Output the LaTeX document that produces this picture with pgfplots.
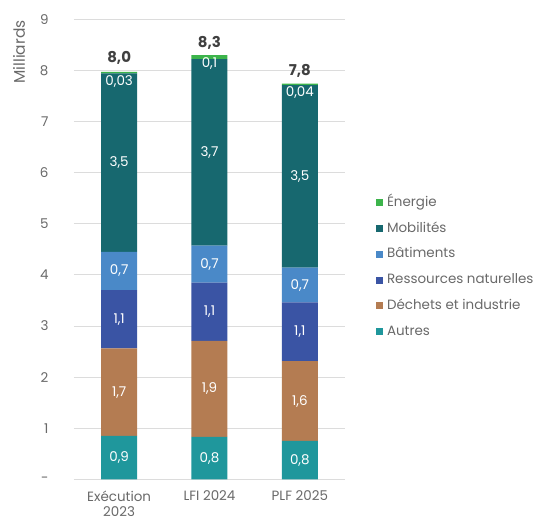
\documentclass[border=0pt]{standalone}
\usepackage{fontspec}
\setmainfont{Poppins}
\usepackage{pgfplots}
\usepackage{pgfplotstable}
\pgfplotsset{compat=1.18}
\definecolor{cEner}{RGB}{60,180,75}
\definecolor{cMob}{RGB}{23,104,111}
\definecolor{cBat}{RGB}{74,137,200}
\definecolor{cRes}{RGB}{58,84,164}
\definecolor{cDec}{RGB}{180,124,82}
\definecolor{cAut}{RGB}{31,151,156}
\definecolor{txt}{RGB}{105,105,105}
\definecolor{tot}{RGB}{64,64,64}
\definecolor{gridc}{RGB}{220,220,220}

% x: 0 = Exécution 2023, 1 = LFI 2024, 2 = PLF 2025
\pgfplotstableread{
x Aut Dec Res Bat Mob Ener
0 0.85 1.71 1.14 0.75 3.49 0.03
1 0.83 1.88 1.14 0.72 3.65 0.08
2 0.75 1.56 1.15 0.68 3.57 0.03
}\data

\pgfplotstableread{
x y l
0 0.425 {0,9}
1 0.415 {0,8}
2 0.375 {0,8}
0 1.705 {1,7}
1 1.770 {1,9}
2 1.530 {1,6}
0 3.130 {1,1}
1 3.280 {1,1}
2 2.885 {1,1}
0 4.075 {0,7}
1 4.210 {0,7}
2 3.800 {0,7}
0 6.195 {3,5}
1 6.395 {3,7}
2 5.925 {3,5}
0 7.780 {0,03}
1 8.130 {0,1}
2 7.570 {0,04}
}\labels

\pgfplotstableread{
x y l
0 8.24 {8,0}
1 8.54 {8,3}
2 8.00 {7,8}
}\totals

\begin{document}
\begin{tikzpicture}
\useasboundingbox (-74bp,-41.7bp) rectangle (459bp,479.3bp);
\begin{axis}[
  at={(0,0)}, anchor=south west,
  scale only axis, width=271bp, height=460bp,
  ybar stacked, bar width=36bp,
  xmin=-0.5, xmax=2.5, ymin=0, ymax=9,
  xtick={0,1,2},
  xticklabels={{Exécution\\2023},{LFI 2024},{PLF 2025}},
  xticklabel style={align=center, anchor=north, yshift=-8bp,
    font=\fontsize{13.5}{15.5}\selectfont, text=txt},
  ytick={0,1,...,9},
  yticklabels={-,1,2,3,4,5,6,7,8,9},
  yticklabel style={anchor=east, xshift=-22bp,
    font=\fontsize{13.5}{15}\selectfont, text=txt},
  ymajorgrids, grid style={draw=gridc, line width=0.9bp},
  axis line style={draw=none},
  major tick length=0pt,
  ylabel={Milliards},
  ylabel style={at={(axis description cs:-0.203,0.929)}, anchor=center,
    font=\fontsize{15.5}{17}\selectfont, text=txt},
  legend image code/.code={\fill[#1] (0bp,-3.5bp) rectangle (7bp,3.5bp); \path (9.5bp,0bp);},
  reverse legend,
  legend cell align=left,
  legend style={draw=none, fill=none, at={(1.112,0.461)}, anchor=west,
    inner sep=0pt, row sep=8.8bp,
    font=\fontsize{13.5}{15}\selectfont, text=txt,
    nodes={text height=10bp, text depth=3bp, inner sep=2bp}},
]
\addplot[fill=cAut, draw=none] table[x=x, y=Aut] {\data};
\addplot[fill=cDec, draw=none] table[x=x, y=Dec] {\data};
\addplot[fill=cRes, draw=none] table[x=x, y=Res] {\data};
\addplot[fill=cBat, draw=none] table[x=x, y=Bat] {\data};
\addplot[fill=cMob, draw=none] table[x=x, y=Mob] {\data};
\addplot[fill=cEner, draw=none] table[x=x, y=Ener] {\data};
\legend{Autres, Déchets et industrie, Ressources naturelles, Bâtiments, Mobilités, Énergie}
\end{axis}
\begin{axis}[
  at={(0,0)}, anchor=south west,
  scale only axis, width=271bp, height=460bp,
  xmin=-0.5, xmax=2.5, ymin=0, ymax=9,
  hide axis, clip=false,
]
\addplot[only marks, mark=none, nodes near coords, point meta=explicit symbolic,
  nodes near coords style={anchor=center, text=white, font=\fontsize{13.5}{15}\selectfont}]
  table[x=x, y=y, meta=l] {\labels};
\addplot[only marks, mark=none, nodes near coords, point meta=explicit symbolic,
  nodes near coords style={anchor=center, text=tot, font=\fontsize{15}{17}\selectfont\bfseries}]
  table[x=x, y=y, meta=l] {\totals};
\end{axis}
\end{tikzpicture}
\end{document}
